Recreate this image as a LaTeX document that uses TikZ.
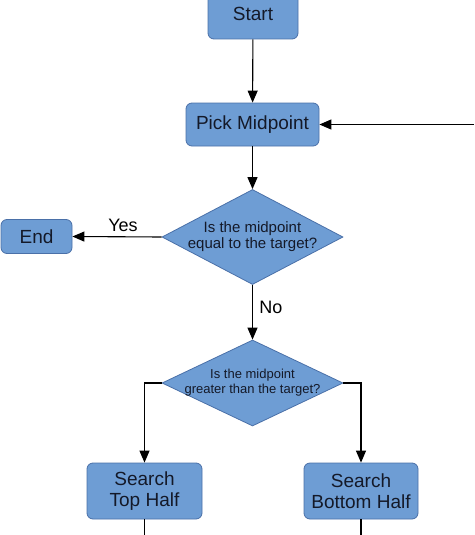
\documentclass[tikz,border=0pt]{standalone}
\usepackage{fontspec}
\setmainfont{Liberation Sans}
\usetikzlibrary{shapes.geometric,arrows.meta}
\definecolor{boxblue}{RGB}{110,157,212}
\definecolor{boxline}{RGB}{74,112,168}
\definecolor{boxtext}{RGB}{20,25,40}
\begin{document}
\begin{tikzpicture}[x=1pt, y=-1pt,
    block/.style = {draw = boxline, fill = boxblue, rounded corners = 6pt,
      text = boxtext, font = \fontsize{19}{21}\selectfont, align = center,
      inner sep = 0pt, line width = 0.8pt},
    decision/.style = {diamond, draw = boxline, fill = boxblue, text = boxtext,
      align = center, line width = 0.8pt},
    flow/.style = {line width = 1.1pt, -{Triangle[length = 12pt, width = 10pt]}},
    lbl/.style = {font = \fontsize{18}{20}\selectfont}]
    \useasboundingbox (0, 0) rectangle (474, 535);

    \node [block, minimum width = 90pt, minimum height = 50pt] (start) at (253, 14) {Start};
    \node [block, minimum width = 133pt, minimum height = 43pt] (pick) at (252.5, 124.5) {Pick Midpoint};
    \node [decision, aspect = 1.9, inner sep = -3pt, minimum width = 181pt, minimum height = 95pt,
      font = \fontsize{15}{16}\selectfont] (equal) at (252.5, 237)
      {Is the midpoint\\equal to the target?};
    \node [block, minimum width = 71pt, minimum height = 34pt] (end) at (36.5, 236.5) {End};
    \node [decision, aspect = 2.1, inner sep = -5pt, minimum width = 181pt, minimum height = 86pt,
      font = \fontsize{13}{15}\selectfont] (greater) at (252.5, 383)
      {Is the midpoint\\greater than the target?};
    \node [block, minimum width = 115pt, minimum height = 56pt] (top) at (144.5, 491) {Search\\Top Half};
    \node [block, minimum width = 114pt, minimum height = 56pt] (bottom) at (361, 491) {Search\\Bottom Half};

    \coordinate (loop) at (474, 124.5);

    \draw [flow] (start) -- (pick);
    \draw [flow] (loop) -- (pick);
    \draw [flow] (pick) -- (equal);
    \draw [flow] (equal.west) -- (end.east);
    \draw [flow] (equal.south) -- (greater.north);
    \draw [flow] (greater.west) -| (top.north);
    \draw [flow] (greater.east) -| (bottom.north);
    \foreach \half in {top, bottom} {
      \draw [line width = 1.1pt] (\half.south) -- (\half.south |- 0, 540);
    }

    \node [lbl] (yes) at (123, 225) {Yes};
    \node [lbl] (no) at (271, 307) {No};
  \end{tikzpicture}
\end{document}
